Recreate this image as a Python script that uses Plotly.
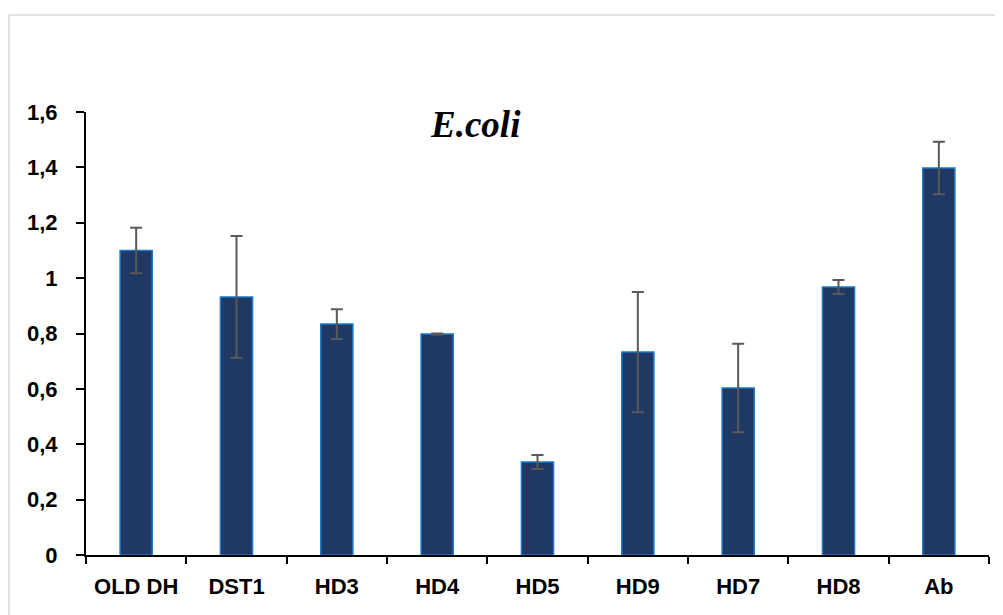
import plotly.graph_objects as go

categories = ["OLD DH", "DST1", "HD3", "HD4", "HD5", "HD9", "HD7", "HD8", "Ab"]
values = [1.10, 0.932, 0.834, 0.798, 0.336, 0.733, 0.603, 0.968, 1.398]
errors = [0.082, 0.22, 0.054, 0.002, 0.025, 0.217, 0.16, 0.025, 0.095]
ytick_vals = [0, 0.2, 0.4, 0.6, 0.8, 1.0, 1.2, 1.4, 1.6]
ytick_text = ["0", "0,2", "0,4", "0,6", "0,8", "1", "1,2", "1,4", "1,6"]

fig = go.Figure()
fig.add_trace(go.Bar(
    x=categories, y=values, width=0.32,
    marker=dict(color="#203864", line=dict(color="#1A78C8", width=1.5)),
    error_y=dict(type="data", array=errors, visible=True, color="#595959", thickness=2, width=6),
))

fig.update_layout(
    width=1003, height=615,
    margin=dict(l=78, r=22, t=104, b=68),
    paper_bgcolor="white", plot_bgcolor="white",
    showlegend=False,
    font=dict(family="Liberation Sans, Arial, sans-serif", color="black"),
    annotations=[dict(text="<b><i>E.coli</i></b>", x=0.431, y=1.022, xref="paper", yref="paper",
                      yanchor="top", xanchor="center", showarrow=False,
                      font=dict(family="Liberation Serif, Times New Roman, serif", size=37, color="black"))],
    shapes=[
        dict(type="line", xref="paper", yref="paper", x0=-0.0853, x1=1.05, y0=1.219, y1=1.219,
             line=dict(color="#D9D9D9", width=1.5)),
        dict(type="line", xref="paper", yref="paper", x0=-0.0853, x1=-0.0853, y0=-0.2, y1=1.219,
             line=dict(color="#D9D9D9", width=1.5)),
    ],
)
fig.update_xaxes(showline=True, linecolor="black", linewidth=2, ticks="outside", tickson="boundaries",
                 ticklen=7, tickwidth=2, tickcolor="black",
                 tickfont=dict(size=22, family="Liberation Sans, Arial, sans-serif", color="black", weight="bold"),
                 ticklabelstandoff=11, showgrid=False)
fig.update_yaxes(range=[0, 1.6], showline=True, linecolor="black", linewidth=2, ticks="outside",
                 ticklen=8, tickwidth=2, tickcolor="black", tickvals=ytick_vals, ticktext=ytick_text,
                 tickfont=dict(size=22, family="Liberation Sans, Arial, sans-serif", color="black", weight="bold"),
                 ticklabelstandoff=14, showgrid=False, zeroline=False)

fig.write_html("out.html")
